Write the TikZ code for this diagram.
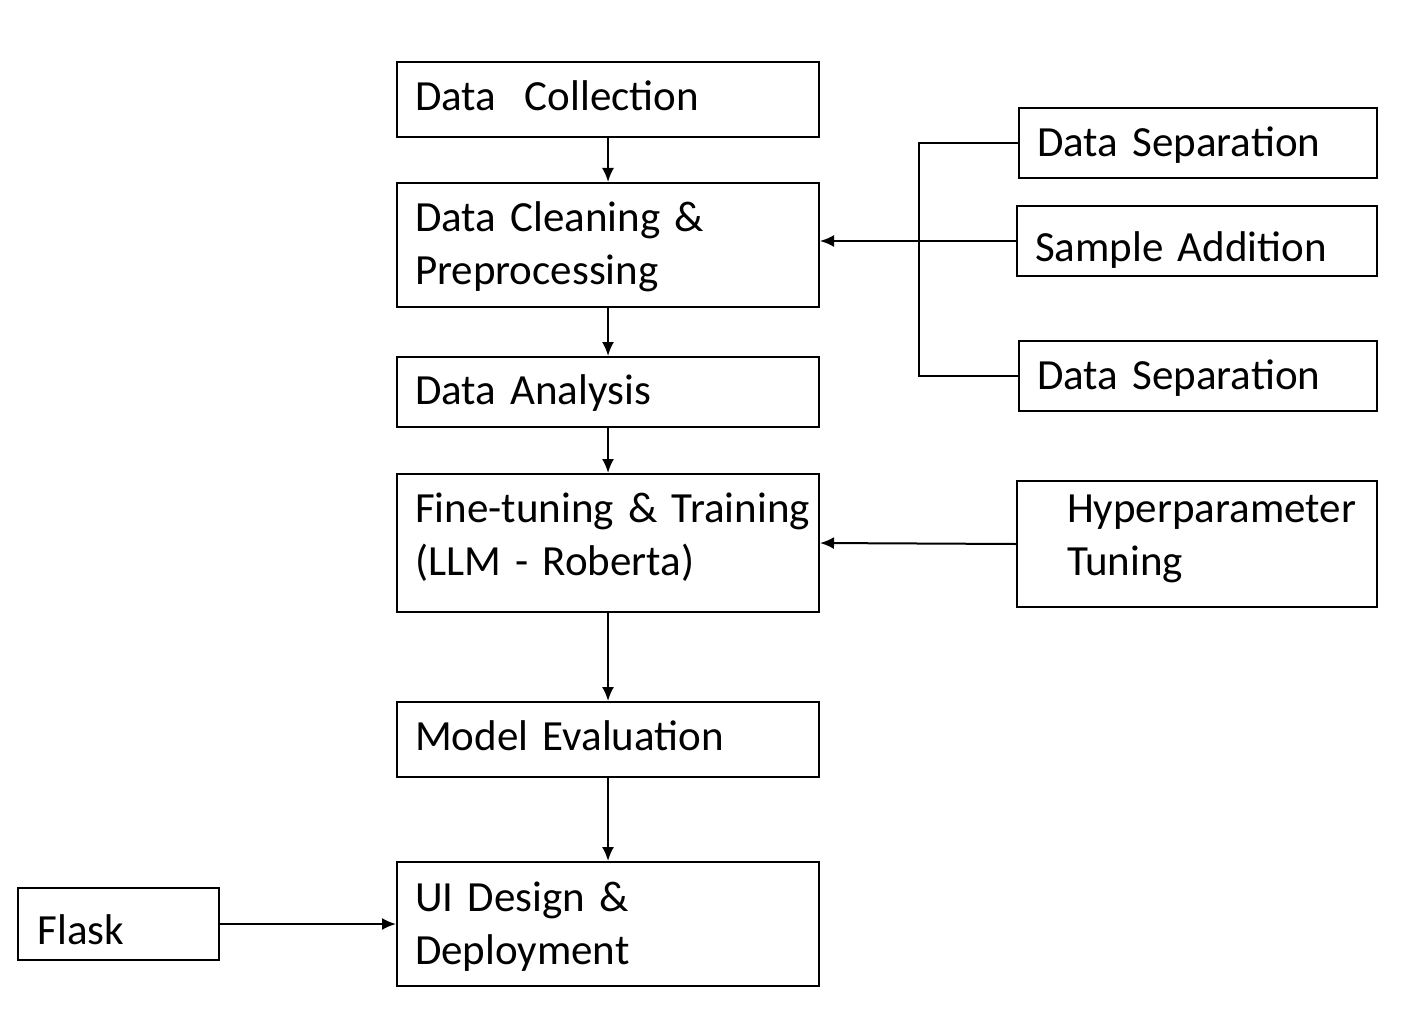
\documentclass[tikz,border=0pt]{standalone}
\usepackage{fontspec}
\setmainfont{Carlito}
\usetikzlibrary{arrows.meta}
\tikzset{
  stagebox/.style={draw, line width=1pt, rectangle, align=left, inner xsep=9pt,
    inner ysep=0pt, text height=17pt, font=\fontsize{21.5}{26.5}\selectfont},
  flowarrow/.style={line width=1pt, -{Latex[length=7pt,width=6pt]}}
}
\begin{document}
\begin{tikzpicture}[x=0.5pt,y=-0.5pt]
  \useasboundingbox (0,0) rectangle (1406,1032);
  % main pipeline
  \node[stagebox, minimum width=211pt, minimum height=37.5pt, text width=193pt, text depth=6pt] (collect) at (608,99.5) {Data\ \ Collection};
  \node[stagebox, minimum width=211pt, minimum height=62pt, text width=193pt] (clean) at (608,245) {Data Cleaning \&\\Preprocessing};
  \node[stagebox, minimum width=211pt, minimum height=35pt, text width=193pt, text depth=5pt] (analysis) at (608,392) {Data Analysis};
  \node[stagebox, minimum width=211pt, minimum height=69pt, text width=193pt, text height=18.5pt, text depth=39.5pt] (finetune) at (608,543) {\mbox{Fine-tuning \& Training}\\(LLM - Roberta)};
  \node[stagebox, minimum width=211pt, minimum height=37.5pt, text width=193pt, text depth=6pt] (evaluate) at (608,739.5) {Model Evaluation};
  \node[stagebox, minimum width=211pt, minimum height=62pt, text width=193pt] (deploy) at (608,924) {UI Design \&\\Deployment};
  % side inputs
  \node[stagebox, minimum width=179pt, minimum height=35pt, text width=161pt, text depth=3.5pt] (sepone) at (1198,143) {Data Separation};
  \node[stagebox, minimum width=180pt, minimum height=35pt, text width=162pt, text height=25pt, text depth=5pt] (addition) at (1197,241) {Sample Addition};
  \node[stagebox, minimum width=179pt, minimum height=35pt, text width=161pt, text depth=4pt] (septwo) at (1198,376) {Data Separation};
  \node[stagebox, minimum width=180pt, minimum height=63pt, text width=130pt, inner xsep=25pt, text height=18.5pt, text depth=40.5pt] (hyper) at (1197,544) {\mbox{Hyperparameter}\\Tuning};
  \node[stagebox, minimum width=100.5pt, minimum height=36pt, text width=81pt, inner xsep=9.5pt, text height=20pt, text depth=0pt] (flask) at (118.5,924) {Flask};
  % connectors
  \coordinate (join) at (919,241);
  \draw[flowarrow] (collect) -- (clean);
  \draw[flowarrow] (clean) -- (analysis);
  \draw[flowarrow] (analysis) -- (finetune);
  \draw[flowarrow] (finetune) -- (evaluate);
  \draw[flowarrow] (evaluate) -- (deploy);
  \draw[line width=1pt] (sepone.west) -| (join) |- (septwo.west);
  \draw[flowarrow] (addition.west) -- (addition.west -| clean.east);
  \draw[flowarrow] (hyper.west) -- (finetune.east);
  \draw[flowarrow] (flask) -- (deploy);
\end{tikzpicture}
\end{document}
